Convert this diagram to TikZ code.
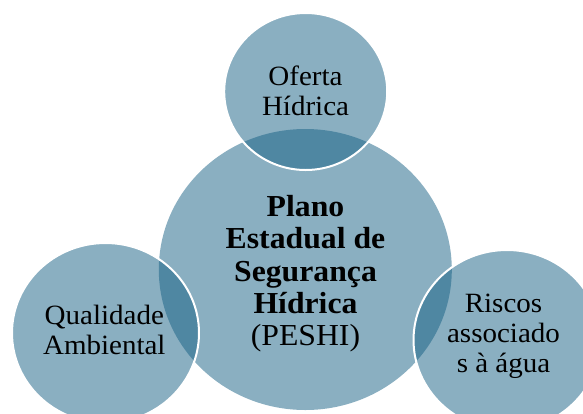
\documentclass[tikz,border=0pt]{standalone}
\usepackage{fontspec}
\setmainfont[FakeStretch=1.04]{Liberation Serif}
\definecolor{vennc}{RGB}{21,95,131}
\tikzset{
  venn/.style={fill=vennc, fill opacity=0.5},
  outerc/.style={venn, draw=white, line width=2pt},
  smalltxt/.style={anchor=base, align=center, inner sep=0pt, font=\fontsize{27.9}{30}\selectfont},
  bigtxt/.style={anchor=base, align=center, inner sep=0pt, font=\fontsize{30.5}{32.3}\selectfont},
}
\begin{document}
\begin{tikzpicture}[x=1pt,y=-1pt]
\useasboundingbox (0,0) rectangle (583,413);
\path[venn] (305.3,269.5) ellipse [x radius=146.5pt, y radius=140.5pt];
\path[outerc] (305.7,91.5) ellipse [x radius=81.5pt, y radius=78.5pt];
\path[outerc] (105.5,333) ellipse [x radius=93.5pt, y radius=90pt];
\path[outerc] (507,340) ellipse [x radius=93.5pt, y radius=90pt];
\node[bigtxt] (centre) at (305.5,345.7) {\textbf{Plano}\\\textbf{Estadual de}\\\textbf{Segurança}\\\textbf{Hídrica}\\(PESHI)};
\node[smalltxt] (oferta) at (305.5,115.5) {Oferta\\Hídrica};
\node[smalltxt] (qualidade) at (104.3,354.3) {Qualidade\\Ambiental};
\node[smalltxt] (riscos) at (503.5,372.7) {Riscos\\associado\\s à água};
\end{tikzpicture}
\end{document}
